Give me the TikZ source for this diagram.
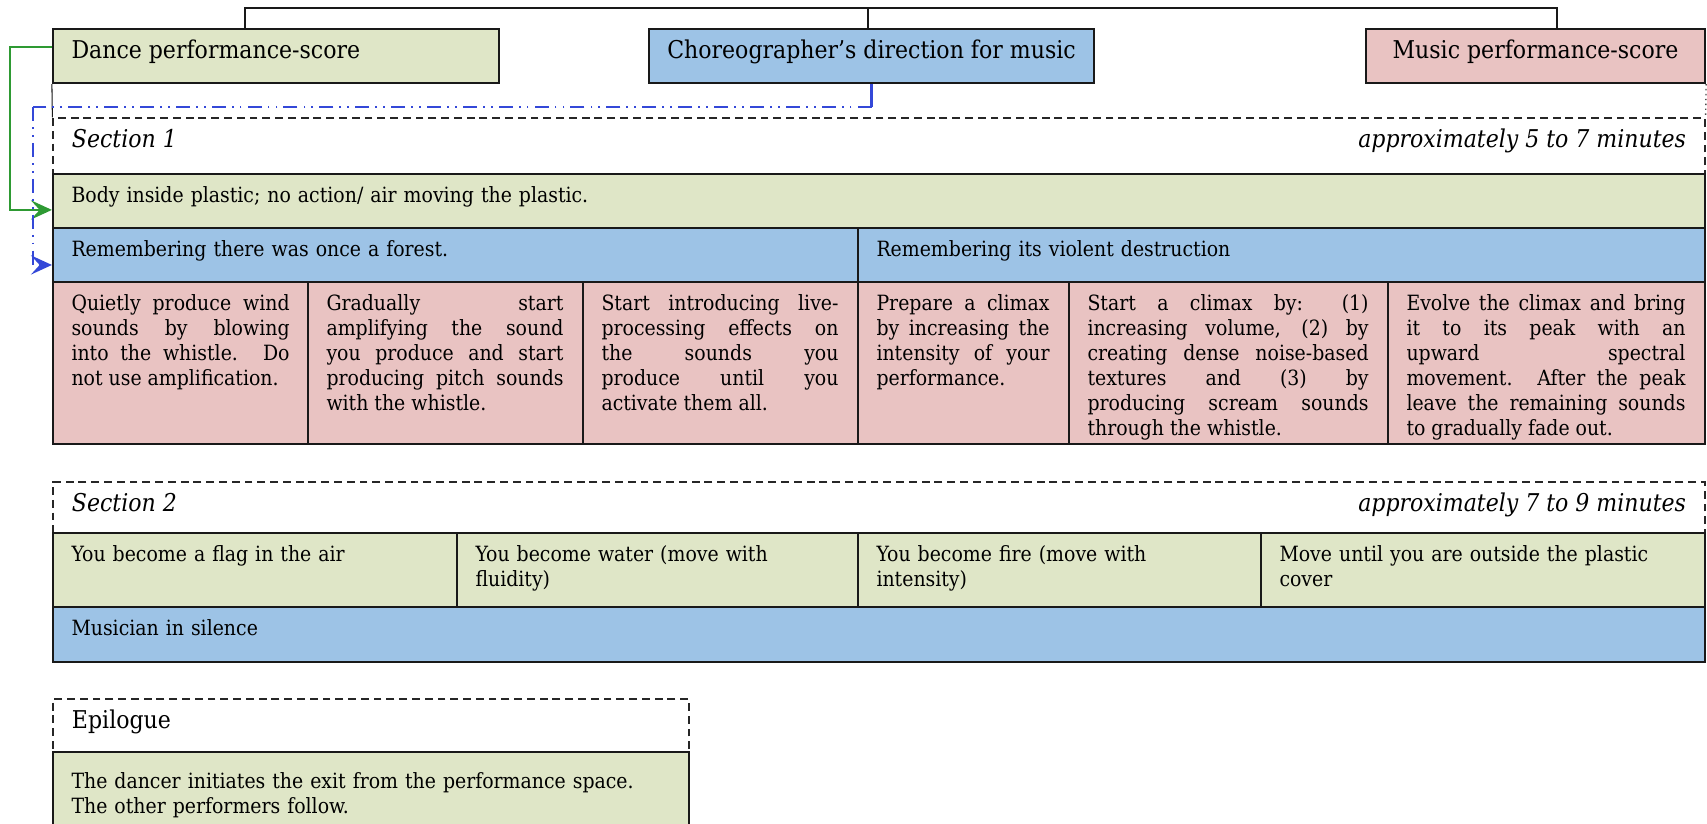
\documentclass[tikz,border=0pt]{standalone}
\usepackage{fontspec}
\setmainfont{DejaVu Serif Condensed}
\usetikzlibrary{arrows.meta,fit}

\definecolor{dgreen}{HTML}{DFE6C7}
\definecolor{dblue}{HTML}{9DC3E6}
\definecolor{dpink}{HTML}{E9C3C2}
\definecolor{lgreen}{HTML}{2E9A33}
\definecolor{lblue}{HTML}{3448D8}

\tikzset{
  x=0.5714pt, y=-0.5714pt,
  box/.style={draw=black!90, line width=1.25pt, inner sep=0pt},
  gbox/.style={box, fill=dgreen},
  bbox/.style={box, fill=dblue},
  pbox/.style={box, fill=dpink},
  secframe/.style={draw=black!85, line width=0.7pt, dash pattern=on 4.5pt off 2.8pt, inner sep=0pt},
  txt/.style={anchor=north west, inner xsep=11pt, inner ysep=6.5pt,
    font=\fontsize{12}{14.3}\selectfont, align=left, text width=#1},
  jtxt/.style={txt=#1, align=justify},
  head/.style={anchor=north west, inner xsep=11pt, inner ysep=5.4pt,
    font=\fontsize{14}{16.8}\selectfont},
  ctxt/.style={anchor=north, inner xsep=0pt, inner ysep=5.4pt,
    font=\fontsize{14}{16.8}\selectfont},
  rtxt/.style={anchor=north east, inner xsep=11pt, inner ysep=5.4pt,
    font=\fontsize{14}{16.8}\selectfont\itshape},
  link/.style={draw=black!90, line width=0.9pt},
  tip/.style={-{Stealth[length=12pt, width=11pt, inset=5pt]}},
  greenlink/.style={draw=lgreen, line width=1.2pt, tip},
  bluelink/.style={draw=lblue, line width=1.2pt,
    dash pattern=on 8pt off 3.5pt on 1pt off 3.5pt on 1pt off 3.5pt},
  bluearrow/.style={bluelink, tip},
}

\begin{document}
\begin{tikzpicture}
\useasboundingbox (0,0) rectangle (1707,824);
\clip (0,0) rectangle (1707,824);

% ---- the three score boxes ----
\node[gbox, fit={(53,29) (499,83)}] (dance) {};
\node[bbox, fit={(649,29) (1094,83)}] (choreo) {};
\node[pbox, fit={(1366,29) (1705,83)}] (music) {};
\node[head] (dance-t) at (dance.north west) {\strut Dance performance-score};
\node[ctxt] (choreo-t) at (choreo.north) {\strut Choreographer’s direction for music};
\node[ctxt] (music-t) at (music.north) {\strut Music performance-score};

% top bracket joining the three scores
\coordinate (topL) at (245,8);
\coordinate (topR) at (1557,8);
\draw[link] (dance.north -| topL) -- (topL) -- (topR) -- (music.north -| topR);
\draw[link] ([xshift=-2pt]choreo.north) -- ([xshift=-2pt]choreo.north |- topL);

% ---- Section 1 ----
\node[secframe, fit={(53,118) (1705,174)}] (sec1) {};
\node[head, font=\fontsize{14}{16.8}\selectfont\itshape] (sec1-t) at (sec1.north west) {\strut Section 1};
\node[rtxt] (sec1-d) at (sec1.north east) {\strut approximately 5 to 7 minutes};

\draw[link, line width=0.6pt] (dance.south west) -- (sec1.north west);
\draw[draw=black!70, line width=0.8pt, dotted] (music.south east) -- (sec1.north east);

\node[gbox, fit={(53,174) (1705,228)}] (body) {};
\node[txt=800pt] (body-t) at (body.north west) {\strut Body inside plastic; no action/ air moving the plastic.};

\node[bbox, fit={(53,228) (858,282)}] (rem1) {};
\node[bbox, fit={(858,228) (1705,282)}] (rem2) {};
\node[txt=400pt] (rem1-t) at (rem1.north west) {\strut Remembering there was once a forest.};
\node[txt=400pt] (rem2-t) at (rem2.north west) {\strut Remembering its violent destruction};

\node[pbox, fit={(53,282) (308,444)}] (p1) {};
\node[pbox, fit={(308,282) (583,444)}] (p2) {};
\node[pbox, fit={(583,282) (858,444)}] (p3) {};
\node[pbox, fit={(858,282) (1069,444)}] (p4) {};
\node[pbox, fit={(1069,282) (1388,444)}] (p5) {};
\node[pbox, fit={(1388,282) (1705,444)}] (p6) {};

\node[jtxt=124.6pt] (p1-t) at (p1.north west) {\strut Quietly produce wind\linebreak
  sounds by blowing\linebreak into the whistle. Do\linebreak not use amplification.};
\node[jtxt=135.4pt] (p2-t) at (p2.north west) {\strut Gradually start\linebreak
  amplifying the sound\linebreak you produce and start\linebreak
  producing pitch sounds\linebreak with the whistle.};
\node[jtxt=135.4pt] (p3-t) at (p3.north west) {\strut Start introducing live-\linebreak
  processing effects on\linebreak the sounds you\linebreak produce until you\linebreak
  activate them all.};
\node[jtxt=98.9pt] (p4-t) at (p4.north west) {\strut Prepare a climax\linebreak
  by increasing the\linebreak intensity of your\linebreak performance.};
\node[jtxt=160.6pt] (p5-t) at (p5.north west) {\strut Start a climax by: (1)\linebreak
  increasing volume, (2) by\linebreak creating dense noise-based\linebreak
  textures and (3) by\linebreak producing scream sounds\linebreak through the whistle.};
\node[jtxt=159.4pt] (p6-t) at (p6.north west) {\strut Evolve the climax and bring\linebreak
  it to its peak with an\linebreak upward spectral\linebreak
  movement. After the peak\linebreak leave the remaining sounds\linebreak to gradually fade out.};

% connectors from the dance score and the choreographer's direction
\draw[greenlink] ([yshift=5.1pt]dance.west) -- ++(-42,0) |- ([yshift=-5.1pt]body.west);
\coordinate (bl) at (33,107);
\draw[draw=lblue, line width=1.2pt] (choreo.south) -- (choreo.south |- bl);
\draw[bluelink] (choreo.south |- bl) -- (bl);
\draw[bluearrow] (bl) |- ([yshift=-5.7pt]rem1.west);

% ---- Section 2 ----
\node[secframe, fit={(53,482) (1705,533)}] (sec2) {};
\node[head, font=\fontsize{14}{16.8}\selectfont\itshape] (sec2-t) at (sec2.north west) {\strut Section 2};
\node[rtxt] (sec2-d) at (sec2.north east) {\strut approximately 7 to 9 minutes};

\node[gbox, fit={(53,533) (457,607)}] (s2a) {};
\node[gbox, fit={(457,533) (858,607)}] (s2b) {};
\node[gbox, fit={(858,533) (1261,607)}] (s2c) {};
\node[gbox, fit={(1261,533) (1705,607)}] (s2d) {};
\node[txt=210pt] (s2a-t) at (s2a.north west) {\strut You become a flag in the air};
\node[txt=210pt] (s2b-t) at (s2b.north west) {\strut You become water (move with\\ fluidity)};
\node[txt=210pt] (s2c-t) at (s2c.north west) {\strut You become fire (move with\\ intensity)};
\node[txt=230pt] (s2d-t) at (s2d.north west) {\strut Move until you are outside the plastic\\ cover};

\node[bbox, fit={(53,607) (1705,662)}] (mus2) {};
\node[txt=400pt] (mus2-t) at (mus2.north west) {\strut Musician in silence};

% ---- Epilogue ----
\node[secframe, fit={(53,699) (689,752)}] (epi) {};
\node[head] (epi-t) at (epi.north west) {\strut Epilogue};
\node[gbox, fit={(53,752) (689,860)}] (epibox) {};
\node[txt=340pt, inner ysep=11.5pt] (epibox-t) at (epibox.north west) {\strut The dancer initiates the exit from the performance space.\\
  The other performers follow.};
\end{tikzpicture}
\end{document}
